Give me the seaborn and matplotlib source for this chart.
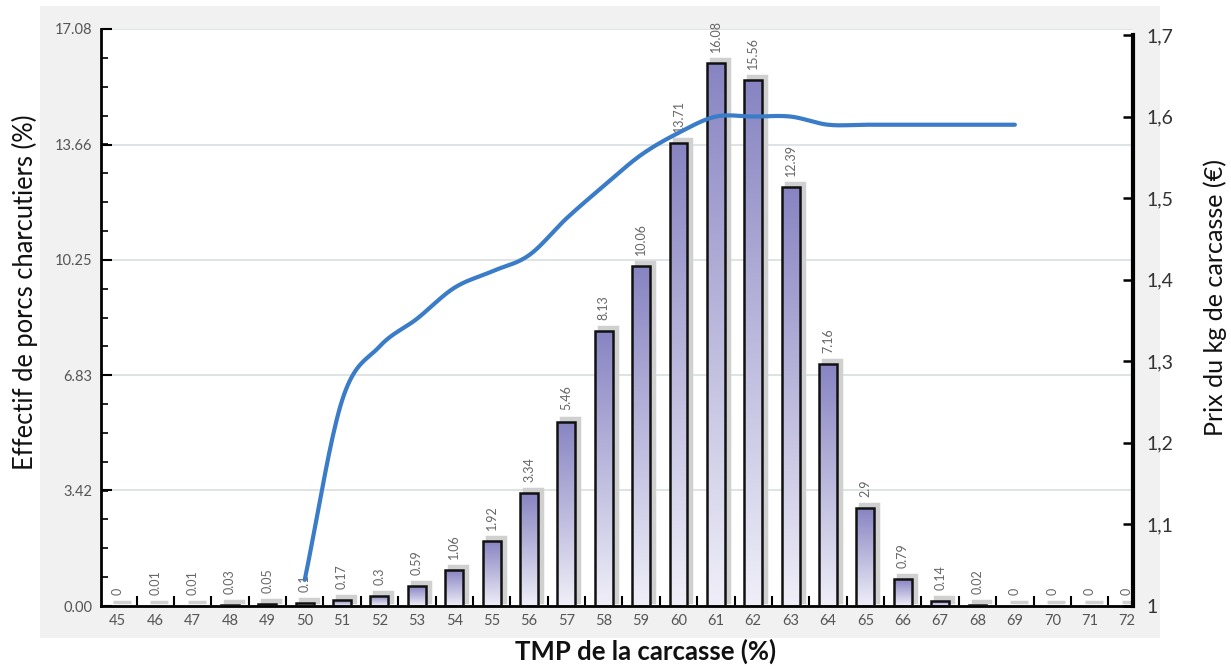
import numpy as np
import pandas as pd
import matplotlib
matplotlib.use("Agg")
import matplotlib.pyplot as plt
import matplotlib.transforms as mtransforms
from matplotlib.patches import Rectangle
from matplotlib.colors import LinearSegmentedColormap
from matplotlib.ticker import FixedLocator
import seaborn as sns

# ---- data ----
tmp = [45, 46, 47, 48, 49, 50, 51, 52, 53, 54, 55, 56, 57, 58,
       59, 60, 61, 62, 63, 64, 65, 66, 67, 68, 69, 70, 71, 72]
effectif = [0, 0.01, 0.01, 0.03, 0.05, 0.1, 0.17, 0.3, 0.59, 1.06, 1.92, 3.34, 5.46, 8.13,
            10.06, 13.71, 16.08, 15.56, 12.39, 7.16, 2.9, 0.79, 0.14, 0.02, 0, 0, 0, 0]
labels = ["0", "0.01", "0.01", "0.03", "0.05", "0.1", "0.17", "0.3", "0.59", "1.06", "1.92",
          "3.34", "5.46", "8.13", "10.06", "13.71", "16.08", "15.56", "12.39", "7.16", "2.9",
          "0.79", "0.14", "0.02", "0", "0", "0", "0"]
prix_tmp = [50, 51, 52, 53, 54, 55, 56, 57, 58, 59, 60, 61, 62, 63, 64, 65, 66, 67, 68, 69]
prix = [1.032, 1.252, 1.318, 1.352, 1.39, 1.41, 1.43, 1.475, 1.515, 1.553, 1.58, 1.60, 1.60,
        1.60, 1.59, 1.59, 1.59, 1.59, 1.59, 1.59]
left_ticks = [0.0, 3.42, 6.83, 10.25, 13.66, 17.08]
right_ticks = [1.0, 1.1, 1.2, 1.3, 1.4, 1.5, 1.6, 1.7]
right_labels = ["1", "1,1", "1,2", "1,3", "1,4", "1,5", "1,6", "1,7"]

df = pd.DataFrame({"tmp": tmp, "eff": effectif})

sns.set_theme(style="white")
plt.rcParams["font.family"] = ["Lato", "DejaVu Sans"]

W, H = 1231, 669
fig = plt.figure(figsize=(W / 100, H / 100), dpi=100)
fig.patches.append(Rectangle((40 / W, 1 - 638 / H), 1120 / W, 632 / H,
                             transform=fig.transFigure, facecolor="#f1f1f1",
                             edgecolor="none", zorder=-10))
ax = fig.add_axes([101 / W, 1 - 606 / H, 1032 / W, 577 / H])
ax.set_facecolor("white")

# bars (gradient fill) with offset grey shadows
sns.barplot(data=df, x="tmp", y="eff", native_scale=True, width=0.48,
            color="#8e8ac6", edgecolor="#111111", linewidth=1.8, ax=ax, zorder=3)
bars = list(ax.patches)
cmap = LinearSegmentedColormap.from_list("g", ["#f0eff8", "#8884c2"])
grad = np.linspace(0, 1, 256).reshape(-1, 1)
shadow_off = mtransforms.offset_copy(ax.transData, fig=fig, x=4, y=4, units="dots")
for b in bars:
    x0, y0, w, h = b.get_x(), b.get_y(), b.get_width(), b.get_height()
    sh = Rectangle((x0, y0), w, max(h, 0.0), transform=shadow_off,
                   facecolor="#d0d0d0", edgecolor="#d0d0d0", linewidth=2.5, zorder=2)
    ax.add_patch(sh)
    b.set_facecolor("none")
    if h < 0.02:
        b.set_edgecolor("none")
    if h > 0:
        im = ax.imshow(grad, extent=(x0, x0 + w, y0, y0 + h), origin="lower",
                       cmap=cmap, aspect="auto", zorder=2.5)
        im.set_clip_path(b)

for x, v, lab in zip(tmp, effectif, labels):
    ax.annotate(lab, (x, v), xytext=(0, 8), textcoords="offset points",
                rotation=90, ha="center", va="bottom", fontsize=9,
                color="#666666", zorder=5)

ax.set_xlim(44.55, 72.16)
ax.set_ylim(0, 17.08)
ax.set_yticks(left_ticks)
ax.set_yticklabels([f"{t:.2f}" for t in left_ticks])
ax.yaxis.set_minor_locator(FixedLocator(np.arange(0, 17.08, 17.08 / 20)))
ax.set_xticks(tmp)
ax.set_xticklabels([str(t) for t in tmp])
ax.xaxis.set_minor_locator(FixedLocator(np.array(tmp[:-1]) + 0.5))
ax.tick_params(axis="x", which="major", length=0, pad=6, labelsize=10.5, labelcolor="#555555")
ax.tick_params(axis="x", which="minor", direction="in", length=7, width=1.5, color="black",
               bottom=True)
ax.tick_params(axis="y", which="major", direction="in", length=8, width=1.5, color="black",
               labelsize=10.5, labelcolor="#555555", left=True, pad=6)
ax.tick_params(axis="y", which="minor", direction="in", length=5, width=1.2, color="black",
               left=True)
ax.grid(axis="y", color="#d8dfe2", linewidth=1.2, zorder=0)
ax.set_axisbelow(True)
for s in ["top", "right"]:
    ax.spines[s].set_visible(False)
for s in ["left", "bottom"]:
    ax.spines[s].set_color("black")
    ax.spines[s].set_linewidth(2)
ax.set_xlabel("")
ax.set_ylabel("")

# price line (smooth rendering via Catmull-Rom through the data points)
ax2 = ax.twinx()
px = np.array(prix_tmp, dtype=float)
py = np.array(prix, dtype=float)
P = np.column_stack([px, py])
Pe = np.vstack([P[0] - (P[1] - P[0]), P, P[-1] + (P[-1] - P[-2])])
sx, sy = [], []
tt = np.linspace(0, 1, 20, endpoint=False)
for i in range(1, len(Pe) - 2):
    p0, p1, p2, p3 = Pe[i - 1], Pe[i], Pe[i + 1], Pe[i + 2]
    for t in tt:
        c = 0.5 * ((2 * p1) + (-p0 + p2) * t + (2 * p0 - 5 * p1 + 4 * p2 - p3) * t ** 2
                   + (-p0 + 3 * p1 - 3 * p2 + p3) * t ** 3)
        sx.append(c[0]); sy.append(c[1])
sx.append(px[-1]); sy.append(py[-1])
sns.lineplot(x=sx, y=sy, sort=False, color="#3a7cc8", linewidth=3.0, ax=ax2, zorder=6)
ax2.set_ylim(1, 1.0 + 0.7 * 577 / 571)
ax2.set_yticks(right_ticks)
ax2.set_yticklabels(right_labels)
ax2.tick_params(axis="y", direction="in", length=7, width=1.8, color="black",
                labelsize=14, labelcolor="#333333", right=True, pad=10)
for s in ["top", "left", "bottom"]:
    ax2.spines[s].set_visible(False)
ax2.spines["right"].set_color("black")
ax2.spines["right"].set_linewidth(3)
ax2.spines["right"].set_bounds(1, 1.7)
ax2.grid(False)
ax2.set_ylabel("")
ax2.set_zorder(ax.get_zorder() + 1)
ax2.patch.set_visible(False)

# axis titles
fig.text(25 / W, 1 - 292 / H, "Effectif de porcs charcutiers (%)", rotation=90,
         ha="center", va="center", fontsize=18.4, color="#111111")
fig.text(1215 / W, 1 - 298 / H, "Prix du kg de carcasse (€)", rotation=90,
         ha="center", va="center", fontsize=18.1, color="#111111")
fig.text(646 / W, 1 - 651 / H, "TMP de la carcasse (%)", ha="center", va="center",
         fontsize=18.5, fontweight="bold", color="#111111")

fig.savefig("out.png", dpi=100)
